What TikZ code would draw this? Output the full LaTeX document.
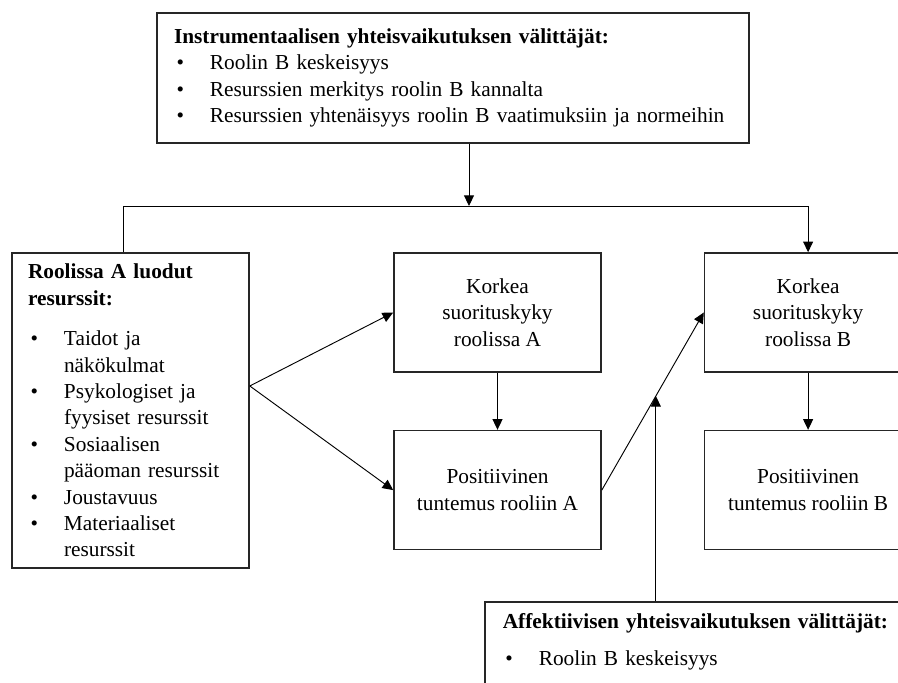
\documentclass[tikz,border=0pt]{standalone}
\usepackage{fontspec}
\setmainfont{Liberation Serif}
\usepackage{tikz}
\usetikzlibrary{arrows.meta,positioning,calc}
\tikzset{
  box/.style={rectangle, draw=black!85, line width=1.2pt, inner sep=0pt,
              font=\fontsize{16}{19.8}\selectfont},
  listbox/.style={box, align=left, inner xsep=12.75pt},
  midbox/.style={box, align=center, minimum width=155.25pt, minimum height=89.25pt},
  arrow/.style={-{Triangle[length=8pt,width=7.5pt]}, line width=0.7pt, black},
}
\newcommand{\bitem}{\makebox[27pt][l]{\hspace{2pt}\textbullet}}
\newcommand{\bcont}{\hspace*{27pt}}

\begin{document}
\begin{tikzpicture}[x=0.75pt, y=-0.75pt]
\useasboundingbox (0,0) rectangle (898,682);
% mediators and resources
\node[listbox, text width=418.5pt, minimum height=97.5pt] (instr) at (453,78)
  {\textbf{Instrumentaalisen yhteisvaikutuksen välittäjät:}\\
   \bitem Roolin B keskeisyys\\
   \bitem Resurssien merkitys roolin B kannalta\\
   \bitem Resurssien yhtenäisyys roolin B vaatimuksiin ja normeihin};
\node[listbox, inner xsep=12pt, text width=153.75pt, minimum height=236.25pt] (res) at (130.5,410.5)
  {\textbf{Roolissa A luodut}\\ \textbf{resurssit:}\\[10.5pt]
   \bitem Taidot ja\\ \bcont näkökulmat\\
   \bitem Psykologiset ja\\ \bcont fyysiset resurssit\\
   \bitem Sosiaalisen\\ \bcont pääoman resurssit\\
   \bitem Joustavuus\\
   \bitem Materiaaliset\\ \bcont resurssit};
% outcomes
\node[midbox] (perfA) at (497.5,312.5) {Korkea\\suorituskyky\\roolissa A};
\node[midbox, below=42.75pt of perfA] (satA) {Positiivinen\\tuntemus rooliin A};
\node[midbox, right=76.5pt of perfA] (perfB) {Korkea\\suorituskyky\\roolissa B};
\node[midbox, below=42.75pt of perfB] (satB) {Positiivinen\\tuntemus rooliin B};
\node[listbox, anchor=north west, inner xsep=13.5pt, inner ysep=9pt, text width=303pt,
      text depth=60pt] (affect) at (484,601)
  {\textbf{Affektiivisen yhteisvaikutuksen välittäjät:}\\[8pt]
   \bitem Roolin B keskeisyys};
\coordinate (split) at (469,206);
\coordinate (lcorner) at (123,206);
\coordinate (hit) at ($(satA.east)!0.53!(perfB.west)$);
% connectors
\draw[arrow] (instr.south -| split) -- (split);
\draw[arrow] (res.north -| lcorner) -- (lcorner) -| (perfB.north);
\draw[arrow] ([yshift=18.4pt]res.east) -- (perfA.west);
\draw[arrow] ([yshift=18.4pt]res.east) -- (satA.west);
\foreach \a/\b in {perfA/satA, perfB/satB}
  \draw[arrow] (\a) -- (\b);
\draw[arrow] (satA.east) -- (perfB.west);
\draw[arrow] (affect.north -| hit) -- (hit);
\end{tikzpicture}
\end{document}
